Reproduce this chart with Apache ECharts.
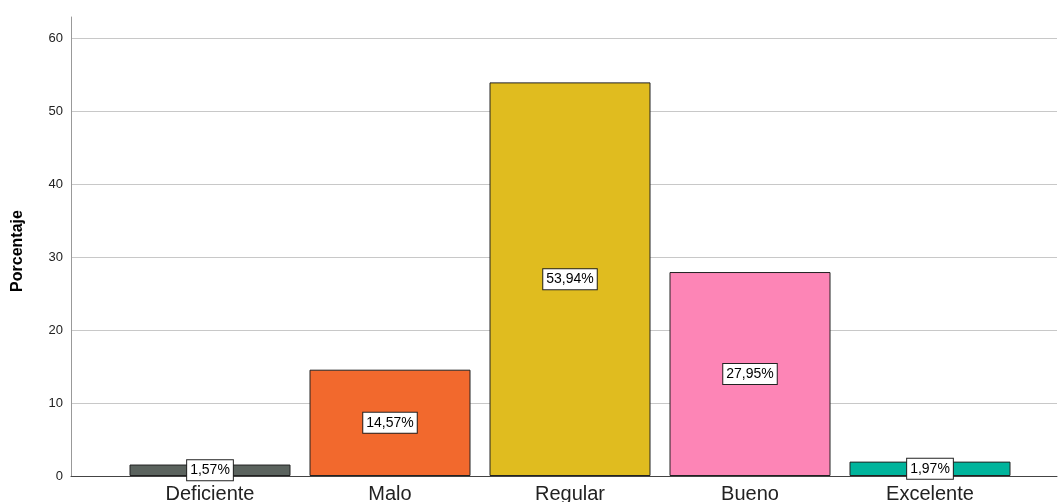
<!DOCTYPE html>
<html>
<head>
<meta charset="utf-8">
<script src="https://cdn.jsdelivr.net/npm/echarts@6/dist/echarts.min.js"></script>
<style>
  html, body { margin: 0; padding: 0; background: #fff; }
  #chart { width: 1059px; height: 502px; }
</style>
</head>
<body>
<div id="chart"></div>
<script>
// Distribution of ratings (percent)
const categories = ['Deficiente', 'Malo', 'Regular', 'Bueno', 'Excelente'];
const percentages = [1.57, 14.57, 53.94, 27.95, 1.97];
const barColors = ['#5b635e', '#f2692d', '#e0bc1f', '#fd85b6', '#00b49c'];
const yTicks = [0, 10, 20, 30, 40, 50, 60];

const Y_MAX = 62.9;
const FONT = '"Liberation Sans", Arial, sans-serif';

const chart = echarts.init(document.getElementById('chart'), null, { renderer: 'canvas' });

chart.setOption({
  animation: false,
  backgroundColor: '#ffffff',
  textStyle: { fontFamily: FONT },
  grid: [
    // frame: y axis, gridlines, baseline
    { left: 71, right: 2, top: 17, bottom: 26, containLabel: false, outerBoundsMode: 'none' },
    // bars
    { left: 120, right: 39, top: 17, bottom: 26, containLabel: false, outerBoundsMode: 'none' }
  ],
  xAxis: [
    {
      gridIndex: 0, type: 'value', min: 0, max: 1,
      axisLine: { show: true, onZero: false, lineStyle: { color: '#444', width: 1 } },
      axisTick: { show: false }, axisLabel: { show: false }, splitLine: { show: false }
    },
    {
      gridIndex: 1, type: 'category', data: categories,
      axisLine: { show: false }, axisTick: { show: false },
      axisLabel: { color: '#222', fontSize: 20, margin: 8, fontFamily: FONT }
    }
  ],
  yAxis: [
    {
      gridIndex: 0, type: 'value', min: 0, max: Y_MAX, interval: 10,
      name: 'Porcentaje', nameLocation: 'middle', nameGap: 45, nameRotate: 90,
      nameTextStyle: { color: '#000', fontSize: 16, fontWeight: 'bold', fontFamily: FONT, padding: [0, 0, 0, -9] },
      axisLine: { show: true, lineStyle: { color: '#999', width: 1 } },
      axisTick: { show: false },
      axisLabel: {
        color: '#222', fontSize: 13, margin: 8, fontFamily: FONT,
        formatter: v => (yTicks.includes(v) ? String(v) : '')
      },
      splitLine: { show: true, showMaxLine: false, lineStyle: { color: '#c8c8c8', width: 1 } }
    },
    {
      gridIndex: 1, type: 'value', min: 0, max: Y_MAX, interval: 10,
      axisLine: { show: false }, axisTick: { show: false },
      axisLabel: { show: false }, splitLine: { show: false }
    }
  ],
  series: [
    {
      type: 'bar',
      xAxisIndex: 1, yAxisIndex: 1,
      barWidth: 161,
      data: percentages.map((v, i) => ({
        value: v,
        itemStyle: { color: barColors[i], borderColor: '#222', borderWidth: 1 }
      })),
      label: {
        show: true,
        position: 'inside',
        formatter: p => p.value.toFixed(2).replace('.', ',') + '%',
        color: '#000',
        fontSize: 14,
        fontFamily: FONT,
        backgroundColor: '#fff',
        borderColor: '#222',
        borderWidth: 1,
        padding: [4, 3, 2, 3]
      }
    }
  ]
});
</script>
</body>
</html>
